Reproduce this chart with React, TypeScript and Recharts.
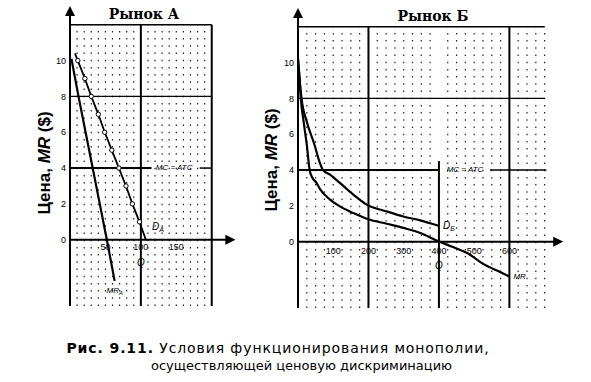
import React from 'react';
import {
  LineChart,
  Line,
  XAxis,
  YAxis,
  ReferenceLine,
  ReferenceDot,
} from 'recharts';

// Рынок А
const demandAQ = [7, 11, 21, 30, 40, 49, 59, 69, 79, 88, 98, 107];
const demandAP = [10.4, 10, 9, 8, 7, 6, 5, 4, 3, 2, 1, 0];
const mrAQ = [2, 12, 22, 32, 42, 52, 63];
const mrAP = [10.1, 8, 6, 4, 2, 0, -2.3];

// Рынок Б
const demandBQ = [0, 4, 10, 25, 47, 62, 71, 91, 119, 157, 195, 252, 299, 347, 399];
const demandBP = [10.2, 9.2, 8, 6.7, 5.4, 4.4, 4.0, 3.74, 3.28, 2.63, 2.07, 1.69, 1.41, 1.19, 0.89];
const mrBQ = [0, 4, 8, 16, 25, 33, 40, 52, 62, 91, 119, 157, 195, 252, 299, 347, 399, 440, 480, 527, 575, 600];
const mrBP = [10.2, 9.2, 8, 6.7, 5.4, 4.0, 3.6, 3.3, 2.95, 2.35, 1.97, 1.6, 1.28, 1.0, 0.77, 0.49, 0.02, -0.3, -0.63, -1.25, -1.7, -1.94];

const yTicks = [0, 2, 4, 6, 8, 10];
const xLabelsA = [50, 100, 150];
const xLabelsB = [100, 200, 300, 400, 500, 600];
const gridA = [10, 20, 30, 40, 50, 60, 70, 80, 90, 110, 120, 130, 140, 150, 160, 170, 180, 190];
const gridB = [25, 50, 75, 100, 125, 150, 175, 225, 250, 275, 300, 325, 350, 375, 425, 450, 475, 500, 525, 550, 575, 625, 650, 675, 700];

const zip = (q: number[], p: number[]) => q.map((v, i) => ({ q: v, p: p[i] }));

const Y_MIN = -3.7;
const Y_MAX = 12.6;

function Txt(props: any) {
  const { viewBox, text, sub, dx = 0, dy = 0, anchor = 'middle', size = 9, italic = false } = props;
  const x = (viewBox?.x ?? 0) + dx;
  const y = (viewBox?.y ?? 0) + dy;
  return (
    <text
      x={x}
      y={y}
      textAnchor={anchor}
      dominantBaseline="middle"
      fontFamily="'Liberation Sans', Arial, sans-serif"
      fontSize={size}
      fontStyle={italic ? 'italic' : 'normal'}
      fill="#000"
    >
      {text}
      {sub && (
        <tspan fontSize={size * 0.7} dy={3}>
          {sub}
        </tspan>
      )}
    </text>
  );
}

const openDot = (props: any) => {
  const { cx, cy, index } = props;
  if (index === 0 || index === demandAQ.length - 1) return <g key={index} />;
  return <circle key={index} cx={cx} cy={cy} r={2.2} fill="#fff" stroke="#000" strokeWidth={1} />;
};

// x axis drawn through the origin, with an arrow at the right end
const axisArrow = (p: any) => (
  <line
    x1={Math.min(p.x1, p.x2)}
    y1={p.y1}
    x2={Math.max(p.x1, p.x2)}
    y2={p.y2}
    stroke="#000"
    strokeWidth={2}
    markerEnd="url(#arr)"
  />
);

function Arrows() {
  return (
    <svg width={0} height={0} style={{ position: 'absolute' }}>
      <defs>
        <marker id="arr" viewBox="0 0 10 10" refX="2" refY="5" markerWidth="5" markerHeight="5" orient="auto-start-reverse">
          <path d="M0,0 L10,5 L0,10 z" fill="#000" />
        </marker>
      </defs>
    </svg>
  );
}

const tickStyle = { fontSize: 9, fill: '#000', fontFamily: "'Liberation Sans', Arial, sans-serif" };

function PanelA() {
  return (
    <LineChart width={250} height={320} margin={{ top: 14, right: 17, bottom: 14, left: 40 }}>
      <XAxis type="number" dataKey="q" domain={[0, 230]} hide allowDataOverflow />
      <YAxis
        type="number"
        domain={[Y_MIN, Y_MAX]}
        ticks={yTicks}
        width={30}
        tickLine={false}
        tickSize={0}
        tickMargin={4}
        tick={tickStyle}
        axisLine={{ stroke: '#000', strokeWidth: 2, markerStart: 'url(#arr)' }}
        allowDataOverflow
      />
      {gridA.map((x) => (
        <ReferenceLine
          key={x}
          segment={[{ x, y: Y_MIN }, { x, y: 12 }]}
          stroke="#222"
          strokeWidth={1.2}
          strokeDasharray="1.5 5.7"
        />
      ))}
      <ReferenceLine segment={[{ x: 0, y: 12 }, { x: 200, y: 12 }]} stroke="#000" strokeWidth={1.6} />
      <ReferenceLine segment={[{ x: 0, y: 8 }, { x: 200, y: 8 }]} stroke="#000" strokeWidth={1.3} />
      <ReferenceLine segment={[{ x: 0, y: 4 }, { x: 115, y: 4 }]} stroke="#000" strokeWidth={2} />
      <ReferenceLine segment={[{ x: 183, y: 4 }, { x: 200, y: 4 }]} stroke="#000" strokeWidth={1.5} />
      <ReferenceLine segment={[{ x: 100, y: Y_MIN }, { x: 100, y: 12 }]} stroke="#000" strokeWidth={2} />
      <ReferenceLine segment={[{ x: 200, y: Y_MIN }, { x: 200, y: 12 }]} stroke="#000" strokeWidth={2} />
      <ReferenceLine segment={[{ x: 0, y: 0 }, { x: 222, y: 0 }]} shape={axisArrow} />
      <Line
        data={zip(mrAQ, mrAP)}
        dataKey="p"
        type="linear"
        stroke="#000"
        strokeWidth={2.2}
        dot={false}
        isAnimationActive={false}
      />
      <Line
        data={zip(demandAQ, demandAP)}
        dataKey="p"
        type="linear"
        stroke="#000"
        strokeWidth={1.8}
        dot={openDot}
        isAnimationActive={false}
      />
      {xLabelsA.map((v) => (
        <ReferenceDot key={v} x={v} y={0} r={0} label={<Txt text={String(v)} dy={8} />} />
      ))}
      <ReferenceDot x={147} y={4} r={0} label={<Txt text="MC = ATC" italic size={8} />} />
      <ReferenceDot x={110} y={0.7} r={0} label={<Txt text="D" sub="A" italic size={10} anchor="start" dx={4} />} />
      <ReferenceDot x={63} y={-2.3} r={0} label={<Txt text="MR" sub="A" italic size={8} dy={10} />} />
      <ReferenceDot x={100} y={0} r={0} label={<Txt text="Q" italic size={10} dy={24} />} />
    </LineChart>
  );
}

function PanelB() {
  return (
    <LineChart width={330} height={320} margin={{ top: 16, right: 16, bottom: 12, left: 18 }}>
      <XAxis type="number" dataKey="q" domain={[0, 755]} hide allowDataOverflow />
      <YAxis
        type="number"
        domain={[Y_MIN, Y_MAX]}
        ticks={yTicks}
        width={30}
        tickLine={false}
        tickSize={0}
        tickMargin={4}
        tick={tickStyle}
        axisLine={{ stroke: '#000', strokeWidth: 2, markerStart: 'url(#arr)' }}
        allowDataOverflow
      />
      {gridB.map((x) => (
        <ReferenceLine
          key={x}
          segment={[{ x, y: Y_MIN }, { x, y: 12 }]}
          stroke="#222"
          strokeWidth={1.2}
          strokeDasharray="1.5 5.7"
        />
      ))}
      <ReferenceLine segment={[{ x: 0, y: 12 }, { x: 700, y: 12 }]} stroke="#000" strokeWidth={1.6} />
      <ReferenceLine segment={[{ x: 0, y: 8 }, { x: 700, y: 8 }]} stroke="#000" strokeWidth={1.2} />
      <ReferenceLine segment={[{ x: 0, y: 4 }, { x: 400, y: 4 }]} stroke="#000" strokeWidth={2} />
      <ReferenceLine segment={[{ x: 545, y: 4 }, { x: 705, y: 4 }]} stroke="#000" strokeWidth={1.5} />
      <ReferenceLine segment={[{ x: 200, y: Y_MIN }, { x: 200, y: 12 }]} stroke="#000" strokeWidth={2} />
      <ReferenceLine segment={[{ x: 400, y: Y_MIN }, { x: 400, y: 4.5 }]} stroke="#000" strokeWidth={2} />
      <ReferenceLine segment={[{ x: 600, y: Y_MIN }, { x: 600, y: 12 }]} stroke="#000" strokeWidth={2} />
      <ReferenceLine segment={[{ x: 0, y: 0 }, { x: 730, y: 0 }]} shape={axisArrow} />
      <Line
        data={zip(mrBQ, mrBP)}
        dataKey="p"
        type="monotone"
        stroke="#000"
        strokeWidth={2.2}
        dot={false}
        isAnimationActive={false}
      />
      <Line
        data={zip(demandBQ, demandBP)}
        dataKey="p"
        type="monotone"
        stroke="#000"
        strokeWidth={2.2}
        dot={false}
        isAnimationActive={false}
      />
      {xLabelsB.map((v) => (
        <ReferenceDot key={v} x={v} y={0} r={0} label={<Txt text={String(v)} dy={10} />} />
      ))}
      <ReferenceDot x={474} y={4} r={0} label={<Txt text="MC = ATC" italic size={8} />} />
      <ReferenceDot x={400} y={0.85} r={0} label={<Txt text="D" sub="Б" italic size={10} anchor="start" dx={4} />} />
      <ReferenceDot x={600} y={-1.94} r={0} label={<Txt text="MR" italic size={8} anchor="start" dx={4} />} />
      <ReferenceDot x={400} y={0} r={0} label={<Txt text="Q" italic size={10} dy={25} />} />
    </LineChart>
  );
}

const titleStyle: React.CSSProperties = {
  position: 'absolute',
  fontFamily: "'DejaVu Serif', serif",
  fontWeight: 'bold',
  fontSize: 14,
  whiteSpace: 'nowrap',
  transform: 'translate(-50%, -50%)',
};

const yTitleStyle: React.CSSProperties = {
  position: 'absolute',
  fontFamily: "'Liberation Sans', Arial, sans-serif",
  fontWeight: 'bold',
  fontSize: 17,
  whiteSpace: 'nowrap',
  transform: 'translate(-50%, -50%) rotate(-90deg)',
};

function YTitle({ x, y }: { x: number; y: number }) {
  return (
    <div style={{ ...yTitleStyle, left: x, top: y }}>
      Цена, <i>MR</i> ($)
    </div>
  );
}

export default function App() {
  return (
    <div style={{ position: 'absolute', left: 0, top: 0, width: 591, height: 382, background: '#fff' }}>
      <Arrows />
      <div style={{ position: 'absolute', left: 0, top: 0 }}>
        <PanelA />
      </div>
      <div style={{ position: 'absolute', left: 250, top: 0 }}>
        <PanelB />
      </div>
      <div style={{ ...titleStyle, left: 144, top: 14 }}>Рынок А</div>
      <div style={{ ...titleStyle, left: 433, top: 16 }}>Рынок Б</div>
      <YTitle x={45} y={163} />
      <YTitle x={272} y={160} />
      <div
        style={{
          position: 'absolute',
          left: 0,
          width: 591,
          top: 339,
          textAlign: 'center',
          fontFamily: "'DejaVu Sans', sans-serif",
          lineHeight: '18px',
        }}
      >
        <div style={{ marginLeft: -35, fontSize: 14, letterSpacing: 0.9 }}>
          <b>Рис. 9.11.</b> Условия функционирования монополии,
        </div>
        <div style={{ marginLeft: 12, fontSize: 13, letterSpacing: 0 }}>осуществляющей ценовую дискриминацию</div>
      </div>
    </div>
  );
}
